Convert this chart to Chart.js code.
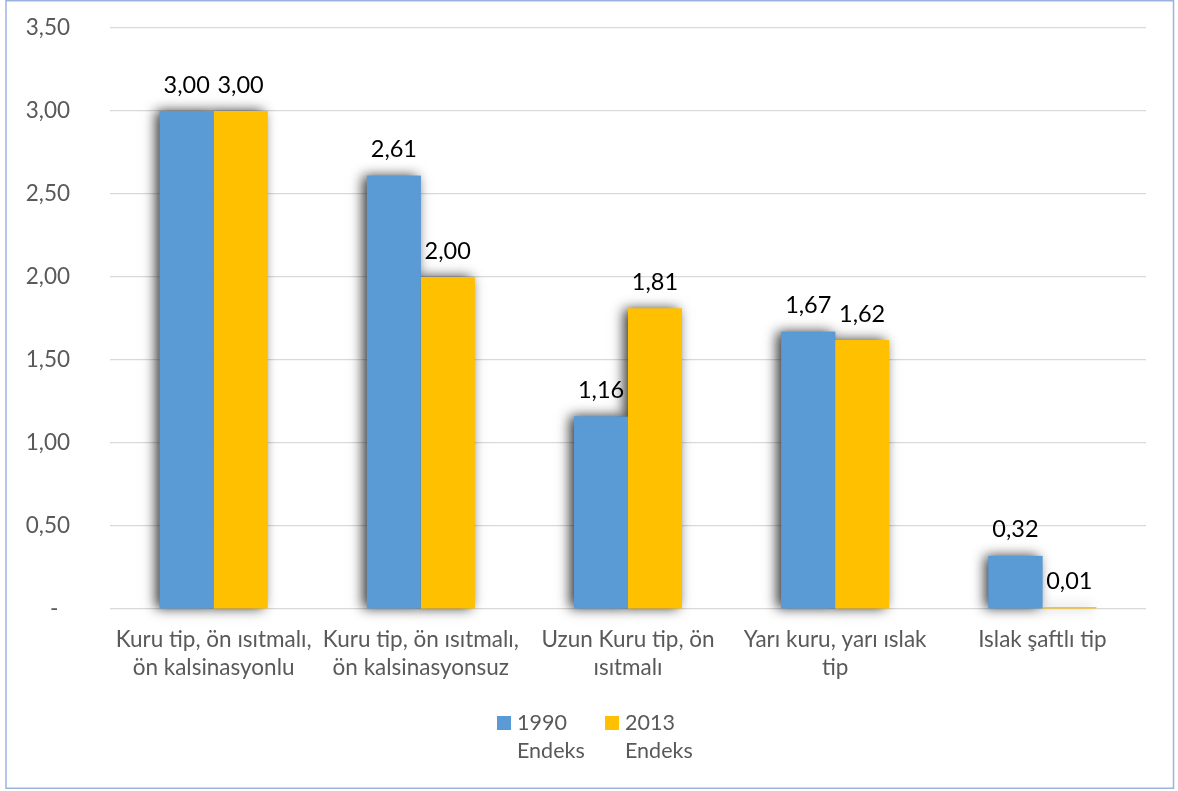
<!DOCTYPE html>
<html>
<head>
<meta charset="utf-8">
<script src="https://cdn.jsdelivr.net/npm/chart.js@4"></script>
<style>
  html, body { margin: 0; padding: 0; background: #fff; }
  canvas { display: block; }
</style>
</head>
<body>
<canvas id="c" width="1178" height="791"></canvas>
<script>
const categories = [
  ["Kuru tip, ön ısıtmalı,", "ön kalsinasyonlu"],
  ["Kuru tip, ön ısıtmalı,", "ön kalsinasyonsuz"],
  ["Uzun Kuru tip, ön", "ısıtmalı"],
  ["Yarı kuru, yarı ıslak", "tip"],
  "Islak şaftlı tip"
];
const seriesNames = [["1990", "Endeks"], ["2013", "Endeks"]];
const values1990 = [3.00, 2.61, 1.16, 1.67, 0.32];
const values2013 = [3.00, 2.00, 1.81, 1.62, 0.01];
const yTicks = [0, 0.5, 1.0, 1.5, 2.0, 2.5, 3.0, 3.5];

const colors = ["#5B9BD5", "#FFC000"];
const FONT = "Lato";
const fmt = v => v === 0 ? "-  " : v.toFixed(2).replace(".", ",");

const bgPlugin = {
  id: "bg",
  beforeDraw(chart) {
    const ctx = chart.ctx;
    ctx.save();
    ctx.fillStyle = "#fff";
    ctx.fillRect(0, 0, chart.width, chart.height);
    ctx.restore();
  },
  afterDraw(chart) {
    const ctx = chart.ctx;
    ctx.save();
    ctx.strokeStyle = "#9CB3DE";
    ctx.lineWidth = 1.5;
    ctx.strokeRect(6, 0.75, 1167.5, 787.5);
    ctx.restore();
  }
};

const shadowPlugin = {
  id: "barShadow",
  beforeDatasetsDraw(chart) {
    const ctx = chart.ctx;
    ctx.save();
    ctx.shadowColor = "rgba(0,0,0,0.8)";
    ctx.shadowBlur = 12;
    ctx.shadowOffsetX = -4;
    ctx.shadowOffsetY = 0;
    chart.data.datasets.forEach((ds, di) => {
      const meta = chart.getDatasetMeta(di);
      meta.data.forEach(el => {
        ctx.fillStyle = ds.backgroundColor;
        const top = Math.min(el.y, el.base);
        ctx.fillRect(el.x - el.width / 2, top, el.width, Math.abs(el.base - el.y));
      });
    });
    ctx.restore();
  }
};

const labelPlugin = {
  id: "valueLabels",
  afterDatasetsDraw(chart) {
    const ctx = chart.ctx;
    ctx.save();
    ctx.font = "23.5px " + FONT;
    ctx.fillStyle = "#000";
    ctx.textAlign = "center";
    ctx.textBaseline = "middle";
    chart.data.datasets.forEach((ds, di) => {
      const meta = chart.getDatasetMeta(di);
      meta.data.forEach((el, i) => {
        ctx.fillText(fmt(ds.data[i]), el.x, el.y - 26);
      });
    });
    ctx.restore();
  }
};

const legendPlugin = {
  id: "customLegend",
  afterDraw(chart) {
    const ctx = chart.ctx;
    ctx.save();
    ctx.font = "21.5px " + FONT;
    ctx.textAlign = "left";
    ctx.textBaseline = "middle";
    const starts = [497, 605];
    chart.data.datasets.forEach((ds, di) => {
      const x = starts[di];
      ctx.fillStyle = ds.backgroundColor;
      ctx.fillRect(x, 716, 14, 14);
      ctx.fillStyle = "#595959";
      const lines = seriesNames[di];
      lines.forEach((t, li) => ctx.fillText(t, x + 20, 723 + li * 28));
    });
    ctx.restore();
  }
};

new Chart(document.getElementById("c"), {
  type: "bar",
  data: {
    labels: categories,
    datasets: [
      { label: seriesNames[0].join(" "), data: values1990, backgroundColor: colors[0] },
      { label: seriesNames[1].join(" "), data: values2013, backgroundColor: colors[1] }
    ]
  },
  options: {
    responsive: false,
    animation: false,
    devicePixelRatio: 1,
    layout: { padding: { left: 0, top: 28, right: 32, bottom: 0 } },
    datasets: { bar: { categoryPercentage: 0.52, barPercentage: 1.0 } },
    plugins: {
      legend: { display: false },
      tooltip: { enabled: false }
    },
    scales: {
      x: {
        grid: { display: false, drawTicks: false },
        border: { display: false },
        ticks: {
          color: "#595959",
          font: { family: FONT, size: 22.5, lineHeight: 1.245 },
          padding: 17,
          maxRotation: 0,
          autoSkip: false
        },
        afterFit(scale) { scale.height = 182; }
      },
      y: {
        min: 0,
        max: 3.5,
        afterBuildTicks(scale) { scale.ticks = yTicks.map(v => ({ value: v })); },
        grid: { color: "#D9D9D9", lineWidth: 1.3, drawTicks: false },
        border: { display: false },
        ticks: {
          color: "#595959",
          font: { family: FONT, size: 22.5 },
          padding: 40,
          callback: v => fmt(v)
        },
        afterFit(scale) {
          scale.width = 110;
          scale.paddingTop = 12;
          scale.paddingBottom = 12;
        }
      }
    }
  },
  plugins: [bgPlugin, shadowPlugin, labelPlugin, legendPlugin]
});
</script>
</body>
</html>
